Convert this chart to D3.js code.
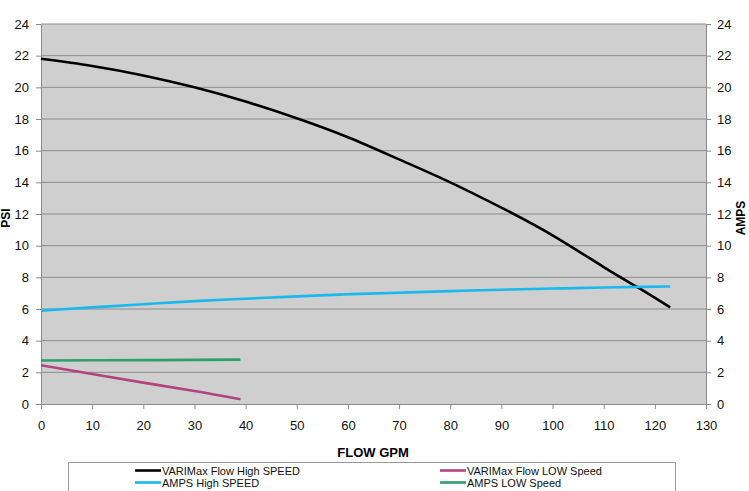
<!DOCTYPE html>
<html><head><meta charset="utf-8">
<script src="https://cdn.jsdelivr.net/npm/d3@7"></script>
<style>body{margin:0;background:#fff}svg{display:block;font-family:"Liberation Sans",Arial,sans-serif}</style>
</head><body><svg id="c" width="749" height="491"></svg>
<script>
const xTicks = [0,10,20,30,40,50,60,70,80,90,100,110,120,130];
const yTicks = [0,2,4,6,8,10,12,14,16,18,20,22,24];
const highFlow = [0,10,20,30,40,50,60,70,80,90,100,110,117,123];
const highPsi  = [21.8,21.35,20.75,20.0,19.1,18.05,16.85,15.45,14.0,12.4,10.65,8.65,7.3,6.1];
const highAmps = [5.9,6.1,6.3,6.5,6.65,6.8,6.93,7.03,7.13,7.22,7.29,7.36,7.4,7.42];
const lowFlow = [0,10,20,30,39];
const lowPsi  = [2.45,1.9,1.35,0.82,0.3];
const lowAmps = [2.75,2.76,2.77,2.79,2.8];
const seriesNames = ["VARIMax Flow High SPEED","AMPS High SPEED","VARIMax Flow LOW Speed","AMPS LOW Speed"];
const seriesColors = ["#000000","#1ab8ee","#b0457e","#2e9e6a"];

const svg = d3.select("#c");
const L=41,R=706,T=24,B=404;
const x = d3.scaleLinear().domain([0,130]).range([L,R]);
const y = d3.scaleLinear().domain([0,24]).range([B,T]);

svg.append("rect").attr("x",L).attr("y",T).attr("width",R-L).attr("height",B-T).attr("fill","#cfcfcf");
svg.append("g").selectAll("line").data(yTicks.filter(d=>d>0)).join("line")
  .attr("x1",L).attr("x2",R).attr("y1",d=>y(d)).attr("y2",d=>y(d))
  .attr("stroke","#8c8c8c").attr("stroke-width",1);

function styleAxis(g){
  g.selectAll(".domain").attr("stroke","#8c8c8c");
  g.selectAll(".tick line").attr("stroke","#8c8c8c");
  g.selectAll("text").attr("fill","#111").attr("font-size","13px");
}
svg.append("g").attr("transform",`translate(0,${B})`)
  .call(d3.axisBottom(x).tickValues(xTicks).tickSize(5).tickPadding(12).tickSizeOuter(0)).call(styleAxis);
svg.append("g").attr("transform",`translate(${L},0)`)
  .call(d3.axisLeft(y).tickValues(yTicks).tickSize(5).tickPadding(7).tickSizeOuter(0)).call(styleAxis);
svg.append("g").attr("transform",`translate(${R},0)`)
  .call(d3.axisRight(y).tickValues(yTicks).tickSize(5).tickPadding(6).tickSizeOuter(0)).call(styleAxis);

const line = d3.line().x(d=>x(d[0])).y(d=>y(d[1])).curve(d3.curveNatural);
const data = [
  d3.zip(highFlow,highPsi), d3.zip(highFlow,highAmps),
  d3.zip(lowFlow,lowPsi), d3.zip(lowFlow,lowAmps)
];
data.forEach((d,i)=>{
  svg.append("path").attr("d",line(d)).attr("fill","none")
    .attr("stroke",seriesColors[i]).attr("stroke-width",2.6);
});

svg.append("text").attr("transform","translate(10,218) rotate(-90)").attr("text-anchor","middle")
  .attr("font-weight","bold").attr("font-size","12px").text("PSI");
svg.append("text").attr("transform","translate(745,218) rotate(-90)").attr("text-anchor","middle")
  .attr("font-weight","bold").attr("font-size","12px").text("AMPS");
svg.append("text").attr("x",373).attr("y",457).attr("text-anchor","middle")
  .attr("font-weight","bold").attr("font-size","13px").text("FLOW GPM");

svg.append("rect").attr("x",68.5).attr("y",462.5).attr("width",607).attr("height",30)
  .attr("fill","#fff").attr("stroke","#999");
const legPos = [[135,470.5],[135,482.5],[440,470.5],[440,482.5]];
seriesNames.forEach((n,i)=>{
  const [lx,ly]=legPos[i];
  svg.append("line").attr("x1",lx).attr("x2",lx+26).attr("y1",ly).attr("y2",ly)
    .attr("stroke",seriesColors[i]).attr("stroke-width",2.6);
  svg.append("text").attr("x",lx+27).attr("y",ly+4).attr("font-size","11px").attr("fill","#111").text(n);
});
</script></body></html>
